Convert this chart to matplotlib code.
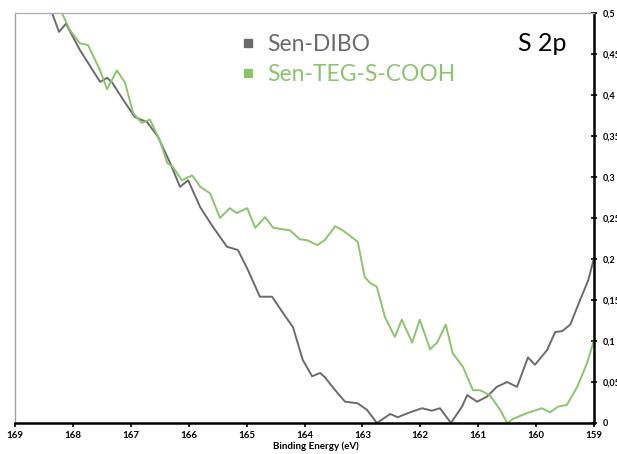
import numpy as np
import matplotlib.pyplot as plt
from matplotlib.lines import Line2D
from matplotlib.ticker import FuncFormatter

# Sen-DIBO (gray)
dibo_e = [168.36, 168.24, 168.12, 167.88, 167.53, 167.41, 167.32, 167.13, 166.93, 166.72,
          166.53, 166.32, 166.15, 166.01, 165.80, 165.58, 165.34, 165.15, 164.98, 164.77,
          164.56, 164.37, 164.20, 164.03, 163.87, 163.73, 163.65, 163.47, 163.30, 163.08,
          162.92, 162.75, 162.52, 162.39, 162.18, 161.97, 161.80, 161.66, 161.47, 161.28,
          161.19, 161.02, 160.85, 160.68, 160.50, 160.33, 160.14, 160.02, 159.81, 159.67,
          159.55, 159.41, 159.24, 159.10, 159.00]
dibo_i = [0.500, 0.477, 0.487, 0.455, 0.416, 0.421, 0.415, 0.394, 0.373, 0.367,
          0.349, 0.317, 0.288, 0.296, 0.263, 0.239, 0.215, 0.211, 0.187, 0.154,
          0.154, 0.134, 0.117, 0.077, 0.057, 0.061, 0.056, 0.040, 0.026, 0.024,
          0.016, 0.000, 0.011, 0.007, 0.013, 0.018, 0.015, 0.018, 0.000, 0.020,
          0.034, 0.026, 0.032, 0.044, 0.050, 0.044, 0.080, 0.071, 0.089, 0.111,
          0.112, 0.120, 0.150, 0.174, 0.201]

# Sen-TEG-S-COOH (green)
teg_e = [168.19, 168.05, 167.88, 167.74, 167.53, 167.41, 167.24, 167.10, 166.96, 166.81,
         166.67, 166.50, 166.37, 166.27, 166.12, 165.94, 165.80, 165.63, 165.46, 165.29,
         165.17, 164.99, 164.85, 164.68, 164.54, 164.25, 164.08, 163.96, 163.78, 163.65,
         163.47, 163.34, 163.08, 162.96, 162.87, 162.75, 162.61, 162.44, 162.32, 162.14,
         162.01, 161.83, 161.71, 161.56, 161.44, 161.26, 161.09, 160.97, 160.80, 160.62,
         160.50, 160.40, 160.16, 159.90, 159.76, 159.62, 159.47, 159.29, 159.12, 159.00]
teg_i = [0.500, 0.479, 0.463, 0.461, 0.430, 0.407, 0.430, 0.415, 0.378, 0.366,
         0.370, 0.345, 0.317, 0.312, 0.296, 0.302, 0.288, 0.280, 0.250, 0.262,
         0.256, 0.262, 0.238, 0.251, 0.238, 0.235, 0.224, 0.223, 0.217, 0.223,
         0.240, 0.235, 0.221, 0.178, 0.171, 0.166, 0.129, 0.105, 0.126, 0.098,
         0.126, 0.090, 0.098, 0.120, 0.085, 0.068, 0.040, 0.040, 0.034, 0.016,
         0.000, 0.005, 0.012, 0.018, 0.013, 0.020, 0.022, 0.044, 0.073, 0.101]

x_ticks = [169, 168, 167, 166, 165, 164, 163, 162, 161, 160, 159]
y_ticks = [0, 0.05, 0.1, 0.15, 0.2, 0.25, 0.3, 0.35, 0.4, 0.45, 0.5]

gray = '#6b6b6b'
green = '#8cc46c'

plt.rcParams['font.family'] = ['Lato', 'DejaVu Sans']

fig = plt.figure(figsize=(6.17, 4.54), dpi=100)
ax = fig.add_axes([15 / 617, 1 - 423 / 454, 579 / 617, 410 / 454])

ax.plot(dibo_e, dibo_i, color=gray, lw=1.4, solid_joinstyle='round')
ax.plot(teg_e, teg_i, color=green, lw=1.4, solid_joinstyle='round')

ax.set_xlim(169, 159)
ax.set_ylim(0, 0.5)
ax.set_xticks(x_ticks)
ax.set_yticks(y_ticks)
ax.yaxis.tick_right()
ax.yaxis.set_major_formatter(FuncFormatter(lambda v, p: ('%g' % v).replace('.', ',')))
ax.tick_params(axis='x', direction='out', length=3, width=1.2, labelsize=7, pad=3)
ax.tick_params(axis='y', direction='inout', length=4, width=1.2, labelsize=6.5, pad=4)
for lab in ax.get_xticklabels() + ax.get_yticklabels():
    lab.set_fontweight('bold')

ax.spines['left'].set_color('#a0a0a0')
ax.spines['top'].set_color('#b0b0b0')
ax.spines['left'].set_linewidth(1)
ax.spines['top'].set_linewidth(1)
ax.spines['right'].set_linewidth(1.8)
ax.spines['bottom'].set_linewidth(1.8)

ax.set_xlabel('Binding Energy (eV)', fontsize=7, fontweight='bold', labelpad=2)
ax.xaxis.set_label_coords(0.52, -0.045)

handles = [Line2D([], [], ls='none', marker='s', ms=6, color=gray),
           Line2D([], [], ls='none', marker='s', ms=6, color=green)]
leg = ax.legend(handles, ['Sen-DIBO', 'Sen-TEG-S-COOH'], loc='upper left',
                bbox_to_anchor=(0.355, 1.0), frameon=False, fontsize=16.5,
                handlelength=0.6, handletextpad=0.55, labelspacing=0.42,
                labelcolor='linecolor')

ax.text(0.868, 0.925, 'S 2p', transform=ax.transAxes, fontsize=18,
        ha='left', va='center', color='black')

fig.savefig('out.png', dpi=100)
